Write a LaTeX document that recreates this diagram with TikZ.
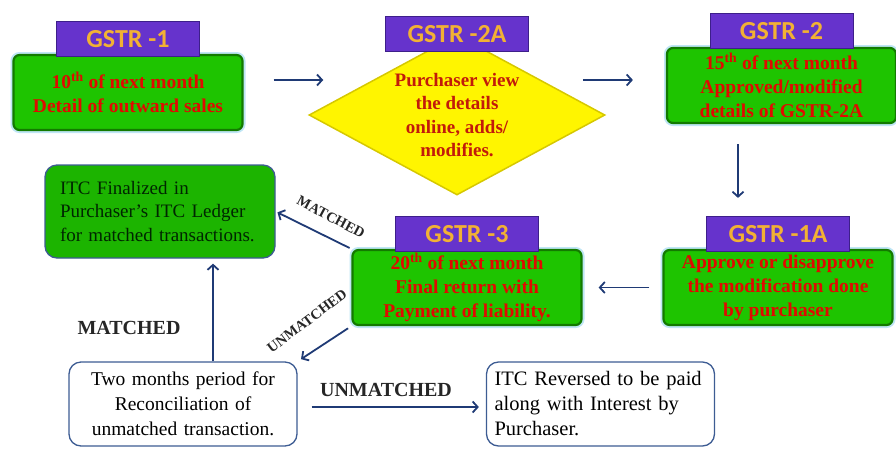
\documentclass[tikz,border=0pt]{standalone}
\usepackage{fontspec}
\setmainfont{Liberation Serif}
\newfontfamily\reiterfont{Carlito}
\usepackage{tikz}
\usetikzlibrary{shapes.geometric}
\usetikzlibrary{arrows.meta}
\usetikzlibrary{positioning}
\definecolor{lila}{HTML}{6633CC}
\definecolor{lilarand}{HTML}{3D1F8A}
\definecolor{gold}{HTML}{F2B134}
\definecolor{gruen}{HTML}{1EC400}
\definecolor{gruenrand}{HTML}{137A00}
\definecolor{glanz}{HTML}{BFE6F5}
\definecolor{rot}{HTML}{E00A00}
\definecolor{rautenrot}{HTML}{C21A0A}
\definecolor{gelb}{HTML}{FFF500}
\definecolor{gelbrand}{HTML}{D6C800}
\definecolor{blaurand}{HTML}{3D5C93}
\definecolor{navy}{HTML}{1F3A75}
\tikzset{
  Kasten/.style={rectangle, rounded corners=6pt, fill=gruen, draw=gruenrand,
    line width=2.2pt, preaction={draw=glanz, line width=6pt},
    minimum width=229pt, minimum height=75pt, inner sep=0pt, align=center,
    text=rot, font=\bfseries\fontsize{19.5}{24}\selectfont}, % GSTR-Kaesten
  Reiter/.style={rectangle, fill=lila, draw=lilarand, line width=1pt,
    minimum width=143pt, minimum height=35pt, inner sep=0pt, text=gold,
    font=\reiterfont\bfseries\fontsize{26}{26}\selectfont}, % Reiter oben
  Raute/.style={diamond, aspect=1.85, fill=gelb, draw=gelbrand, line width=1.5pt,
    minimum width=296pt, minimum height=160pt, inner sep=0pt, align=center,
    text=rautenrot, font=\bfseries\fontsize{19}{23.5}\selectfont},
  Ledger/.style={rectangle, rounded corners=12pt, fill=gruen!92!black, draw=blaurand,
    line width=1.3pt, minimum width=230pt, minimum height=93pt, inner xsep=15pt,
    text width=200pt, align=left, text=black!85!green,
    font=\fontsize{19}{23.5}\selectfont},
  Info/.style={rectangle, rounded corners=12pt, fill=white, draw=blaurand,
    line width=1.3pt, minimum width=228pt, minimum height=84pt, inner xsep=8pt,
    text width=212pt, font=\fontsize{19.5}{25}\selectfont},
  Marke/.style={font=\bfseries\fontsize{20}{20}\selectfont, text=black!85},
  Schraeg/.style={font=\bfseries\fontsize{14.5}{14.5}\selectfont, text=black!85, inner sep=0pt},
  Pfeil/.style={navy, line width=1.8pt, ->, shorten >=#1, shorten <=#1},
  Pfeil/.default=0pt
}
\begin{document}
\begin{tikzpicture}[x=1pt, y=-1pt,
>={Straight Barb[length=5pt,width=11pt]} % Pfeilspitzen
]
\useasboundingbox (0,0) rectangle (896,448);

%Kaesten
\node[Kasten] (g1) at (128,92.5) {10\textsuperscript{th} of next month\\Detail of outward sales};
\node[Raute] (g2a) at (457,115) {Purchaser view\\the details\\online, adds/\\modifies.};
\node[Kasten] (g2) at (781.5,85.5) {15\textsuperscript{th} of next month\\Approved/modified\\details of GSTR-2A};
\node[Kasten] (g1a) at (778,287.5) {Approve or disapprove\\the modification done\\by purchaser};
\node[Kasten] (g3) at (467,287.5) {20\textsuperscript{th} of next month\\Final return with\\Payment of liability.};
\node[Ledger] (itc) at (160,211.5) {ITC Finalized in\\Purchaser's ITC Ledger\\for matched transactions.};
\node[Info, align=center] (abgl) at (183,404) {Two months period for\\Reconciliation of\\unmatched transaction.};
\node[Info, align=left, font=\fontsize{20.5}{25}\selectfont] (rev) at (600.5,404) {ITC Reversed to be paid\\along with Interest by\\Purchaser.};

%Reiter
\node[Reiter, above=-3pt of g1] (t1) {GSTR -1};
\node[Reiter] (t2a) at (g2a.north) {GSTR -2A};
\node[Reiter, above=-2pt of g2] (t2) {GSTR -2};
\node[Reiter, above=-3pt of g1a] (t1a) {GSTR -1A};
\node[Reiter, above=-3pt of g3] (t3) {GSTR -3};

%Beschriftungen
\node[Marke] (m1) at (129,328) {MATCHED};
\node[Marke] (u1) at (386,390) {UNMATCHED};
\node[Schraeg, rotate=-28] (m2) at (331,217) {MATCHED};
\node[Schraeg, rotate=37] (u2) at (307,321) {UNMATCHED};

%Pfeile
\draw[Pfeil] ([xshift=30pt,yshift=12.5pt]g1.east) -- ([xshift=15pt,yshift=35pt]g2a.west);
\draw[Pfeil] ([xshift=-23pt,yshift=35pt]g2a.east) -- ([xshift=-33pt,yshift=5.5pt]g2.west);
\draw[Pfeil] ([xshift=-43.5pt,yshift=-20pt]g2.south) -- ([xshift=-40pt,yshift=18pt]t1a.north);
\draw[Pfeil] ([xshift=-13pt]g1a.west) -- ([xshift=16pt]g3.east);
\draw[Pfeil=2pt] (g3.north west) -- (itc.east);
\draw[Pfeil=4pt] (g3.south west) -- (abgl.north east);
\draw[Pfeil, shorten >=5pt] ([xshift=30pt]abgl.north) -- ([xshift=30pt]abgl.north |- itc.south);
\draw[Pfeil, shorten <=14pt, shorten >=7pt] ([yshift=-3pt]abgl.east) -- ([yshift=-3pt]rev.west);

\end{tikzpicture}
\end{document}
